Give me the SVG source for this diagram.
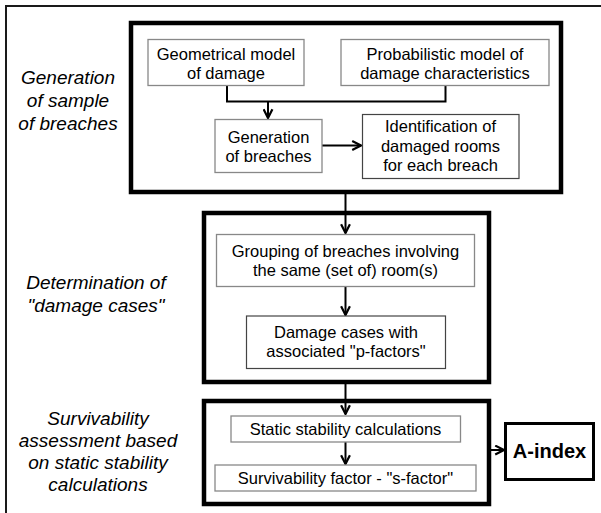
<svg xmlns="http://www.w3.org/2000/svg" width="601" height="513" viewBox="0 0 601 513">
<defs>
<marker id="ah" viewBox="0 0 10 10" refX="9" refY="5" markerWidth="5.5" markerHeight="5.5" orient="auto" markerUnits="strokeWidth">
<path d="M1,1 L9,5 L1,9" fill="none" stroke="#000" stroke-width="2"/>
</marker>
</defs>
<style>
.frame{fill:none;stroke:#1a1a1a;stroke-width:2}
.group{fill:none;stroke:#000;stroke-width:4.5}
.box{fill:#fff;stroke:#888;stroke-width:1.3}
.boxd{fill:#fff;stroke:#444;stroke-width:1.2}
.t{font-family:"Liberation Sans",Arial,sans-serif;font-size:16.5px;fill:#000;text-anchor:middle}
.lab{font-family:"Liberation Sans",Arial,sans-serif;font-size:19px;font-style:italic;fill:#000;text-anchor:middle}
.conn{fill:none;stroke:#000;stroke-width:2}
.bold{font-family:"Liberation Sans",Arial,sans-serif;font-size:20px;font-weight:bold;fill:#000;text-anchor:middle}
</style>
<rect width="601" height="513" fill="#fff"/>
<rect class="frame" x="6" y="6" width="620" height="530"/>

<g id="labels">
<text class="lab" x="68" y="84">Generation</text>
<text class="lab" x="68" y="107">of sample</text>
<text class="lab" x="68" y="130">of breaches</text>
<text class="lab" x="96" y="289">Determination of</text>
<text class="lab" x="96" y="312">"damage cases"</text>
<text class="lab" x="98" y="425">Survivability</text>
<text class="lab" x="98" y="447">assessment based</text>
<text class="lab" x="98" y="469">on static stability</text>
<text class="lab" x="98" y="491">calculations</text>
</g>

<g id="group1"><rect class="group" x="131" y="23" width="430" height="169"/></g>
<g id="group2"><rect class="group" x="204" y="213" width="285" height="169"/></g>
<g id="group3"><rect class="group" x="204" y="401" width="285" height="103"/></g>

<g id="connectors">
<path class="conn" d="M227,85 V101.5 H445.5 V85"/>
<path class="conn" d="M268,101.5 V118" marker-end="url(#ah)"/>
<path class="conn" d="M322,145.5 H361" marker-end="url(#ah)"/>
<path class="conn" d="M345.5,192 V233" marker-end="url(#ah)"/>
<path class="conn" d="M345.5,287 V315" marker-end="url(#ah)"/>
<path class="conn" d="M345.5,382 V414" marker-end="url(#ah)"/>
<path class="conn" d="M345.5,442 V464" marker-end="url(#ah)"/>
<path class="conn" d="M489,450 H504" marker-end="url(#ah)"/>
</g>

<g id="geom">
<rect class="box" x="148" y="39.5" width="156" height="46"/>
<text class="t" x="226" y="60">Geometrical model</text>
<text class="t" x="226" y="79">of damage</text>
</g>
<g id="prob">
<rect class="box" x="341" y="39.5" width="208" height="46"/>
<text class="t" x="445" y="60">Probabilistic model of</text>
<text class="t" x="445" y="79">damage characteristics</text>
</g>
<g id="genbreach">
<rect class="box" x="215" y="119.5" width="107" height="53"/>
<text class="t" x="268.5" y="143">Generation</text>
<text class="t" x="268.5" y="162">of breaches</text>
</g>
<g id="ident">
<rect class="boxd" x="362.5" y="114.5" width="156.5" height="64"/>
<text class="t" x="440.5" y="132">Identification of</text>
<text class="t" x="440.5" y="152">damaged rooms</text>
<text class="t" x="440.5" y="171">for each breach</text>
</g>
<g id="grouping">
<rect class="box" x="216.5" y="234.5" width="258" height="52"/>
<text class="t" x="345.5" y="257">Grouping of breaches involving</text>
<text class="t" x="345.5" y="276">the same (set of) room(s)</text>
</g>
<g id="damagecases">
<rect class="boxd" x="246.5" y="316" width="199" height="52.5"/>
<text class="t" x="346" y="338">Damage cases with</text>
<text class="t" x="346" y="357">associated "p-factors"</text>
</g>
<g id="static">
<rect class="box" x="231" y="416" width="229.5" height="26"/>
<text class="t" x="345.5" y="435">Static stability calculations</text>
</g>
<g id="sfactor">
<rect class="box" x="215" y="465" width="261" height="26"/>
<text class="t" x="345.5" y="484">Survivability factor - "s-factor"</text>
</g>
<g id="aindex">
<rect fill="#fff" stroke="#000" stroke-width="3" x="505.5" y="423.5" width="88" height="56"/>
<text class="bold" x="549.5" y="458">A-index</text>
</g>
</svg>
